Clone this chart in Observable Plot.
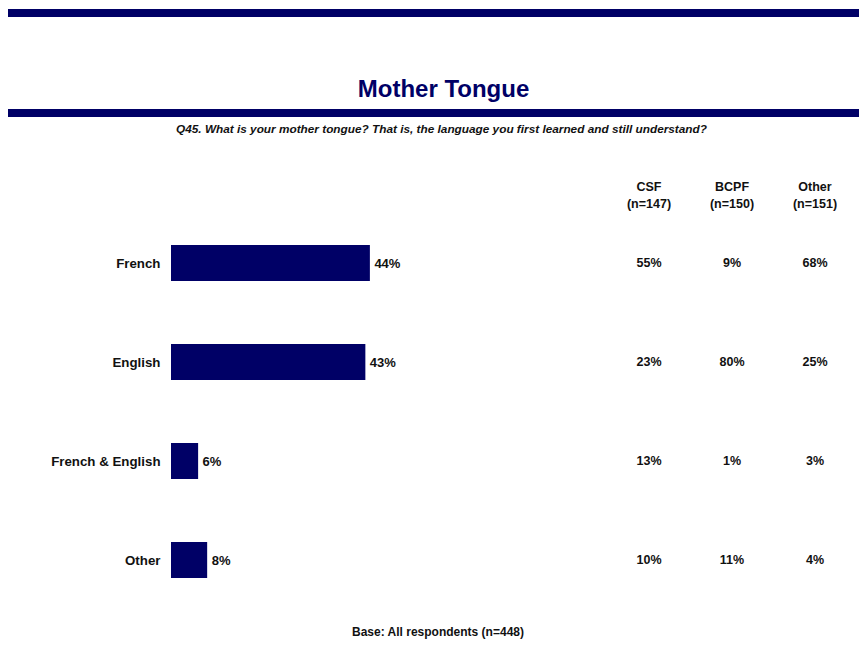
<!DOCTYPE html>
<html><head><meta charset="utf-8">
<script src="https://cdn.jsdelivr.net/npm/d3@7"></script>
<script src="https://cdn.jsdelivr.net/npm/@observablehq/plot@0.6"></script>
<style>
body{margin:0;background:#fff;font-family:"Liberation Sans",Arial,sans-serif;}
#wrap{position:relative;width:859px;height:650px;overflow:hidden;background:#fff;}
.rule{position:absolute;left:8px;width:851px;height:8px;background:#000066;}
#title{position:absolute;left:0;width:887px;top:77px;text-align:center;font-size:24px;line-height:24px;font-weight:bold;color:#000066;margin:0;}
#subtitle{position:absolute;left:0;width:883px;top:124px;text-align:center;font-size:11.8px;line-height:11px;font-weight:bold;font-style:italic;color:#111;margin:0;white-space:nowrap;}
#caption{position:absolute;left:0;width:876px;top:626px;text-align:center;font-size:12px;line-height:12px;font-weight:bold;color:#111;margin:0;}
svg.layer{position:absolute;left:0;top:130px;}
</style>
</head><body>
<div id="wrap">
  <div class="rule" style="top:9px"></div>
  <div id="title">Mother Tongue</div>
  <div class="rule" style="top:109px"></div>
  <div id="subtitle">Q45. What is your mother tongue? That is, the language you first learned and still understand?</div>
  <div id="caption">Base: All respondents (n=448)</div>
</div>
<script>
const categories = ["French", "English", "French & English", "Other"];
const totalValues = [44, 43, 6, 8];
const groups = ["CSF", "BCPF", "Other"];
const groupN = [147, 150, 151];
const csfValues = [55, 23, 13, 10];
const bcpfValues = [9, 80, 1, 11];
const otherValues = [68, 25, 3, 4];

const navy = "#000066";
const ink = "#111";
const font = "'Liberation Sans', Arial, sans-serif";

const totalRows = categories.map((c, i) => ({cat: c, value: totalValues[i]}));
const groupSeries = [csfValues, bcpfValues, otherValues];
const tableRows = [];
groups.forEach((g, j) => categories.forEach((c, i) => tableRows.push({group: g, cat: c, value: groupSeries[j][i]})));
const nByGroup = new Map(groups.map((g, i) => [g, groupN[i]]));

const yScale = {type: "band", domain: categories, range: [64.3, 497.6], paddingInner: 0.6376, paddingOuter: 0.5, label: null};

const bars = Plot.plot({
  width: 859, height: 500,
  marginLeft: 171, marginTop: 80, marginRight: 0, marginBottom: 0,
  style: {background: "transparent", fontFamily: font},
  x: {domain: [0, 100], range: [171, 623], axis: null},
  y: yScale,
  marks: [
    Plot.barX(totalRows, {x: "value", y: "cat", fill: navy}),
    Plot.text(totalRows, {x: "value", y: "cat", text: d => d.value + "%", textAnchor: "start", dx: 4, fontSize: 13, fontWeight: "bold", fill: ink}),
    Plot.axisY({tickSize: 0, tickPadding: 11, fontSize: 13.3, fontWeight: "bold", color: ink})
  ]
});
bars.classList.add("layer");

const table = Plot.plot({
  width: 859, height: 500,
  marginLeft: 0, marginTop: 80, marginRight: 0, marginBottom: 0,
  style: {background: "transparent", fontFamily: font},
  x: {type: "band", domain: groups, range: [606.25, 856.75], padding: 0, label: null},
  y: {...yScale, axis: null},
  marks: [
    Plot.text(tableRows, {x: "group", y: "cat", text: d => d.value + "%", fontSize: 12.5, fontWeight: "bold", fill: ink, dy: -1}),
    Plot.axisX({anchor: "top", tickSize: 0, tickPadding: 3, fontSize: 12.5, fontWeight: "bold", color: ink, lineHeight: 1.36, label: null,
      tickFormat: d => `${d}\n(n=${nByGroup.get(d)})`})
  ]
});
table.classList.add("layer");
table.style.pointerEvents = "none";

const wrap = document.getElementById("wrap");
wrap.appendChild(bars);
wrap.appendChild(table);
</script>
</body></html>
